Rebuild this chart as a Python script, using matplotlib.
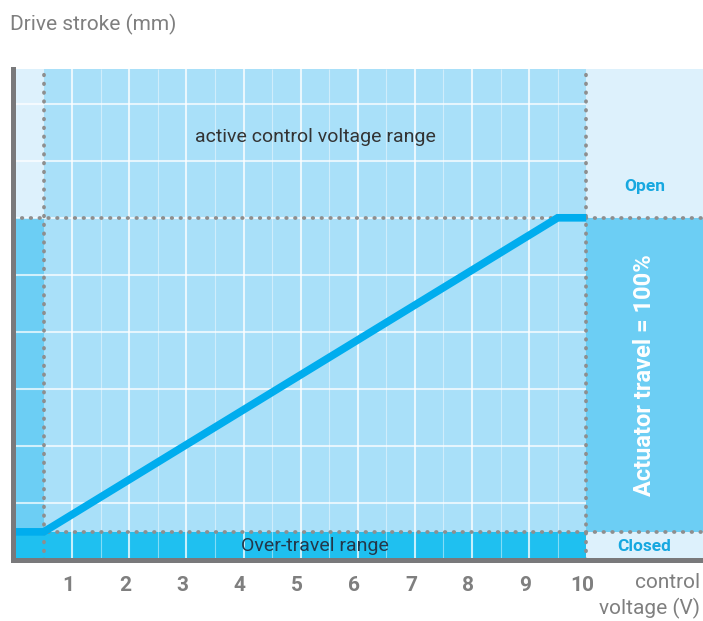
import matplotlib
matplotlib.use("Agg")
import matplotlib.pyplot as plt
import numpy as np
from matplotlib import font_manager
from matplotlib.patches import Rectangle
from matplotlib.transforms import ScaledTranslation

# ---------------- data ----------------
voltage = [0.0, 0.5, 9.5, 10.0]          # control voltage (V)
stroke = [0.0, 0.0, 100.0, 100.0]        # drive stroke (% of actuator travel)
tick_values = [1, 2, 3, 4, 5, 6, 7, 8, 9, 10]
tick_labels = ["1", "2", "3", "4", "5", "6", "7", "8", "9", "10"]
active_range = (0.5, 10.0)               # active control voltage range (V)
closed_pos, open_pos = 0.0, 100.0        # stroke at closed / open

# ---------------- fonts ----------------
names = {f.name for f in font_manager.fontManager.ttflist}
FONT = "Liberation Sans Narrow" if "Liberation Sans Narrow" in names else "Roboto"
plt.rcParams["font.family"] = [FONT, "DejaVu Sans"]

# ---------------- colours ----------------
C_LIGHT = "#ddf1fc"
C_ACTIVE = "#a9e0f9"
C_MED = "#6ccef4"
C_OVER = "#1fc0f0"
C_LINE = "#00adee"
C_DOT = "#8e8e8e"
C_SPINE = "#79797b"
C_GRAY = "#7f7f7f"
C_BLUE_TXT = "#17a8e0"

W, H = 703, 621
fig = plt.figure(figsize=(W / 100, H / 100), dpi=100)
ax = fig.add_axes([12.5 / W, (H - 560.4) / H, 690.5 / W, (560.4 - 69) / H])

step = (open_pos - closed_pos) / 5.5     # one grid cell in stroke units
x0, x1 = -0.047, 12.045
y0, y1 = closed_pos - 0.5 * step, closed_pos + 8.106 * step
ax.set_xlim(x0, x1)
ax.set_ylim(y0, y1)

a0, a1 = active_range

def rect(xa, xb, ya, yb, c):
    ax.add_patch(Rectangle((xa, ya), xb - xa, yb - ya, facecolor=c,
                           edgecolor="none", zorder=0))

# left column
rect(x0, a0, y0, closed_pos, C_OVER)
rect(x0, a0, closed_pos, open_pos, C_MED)
rect(x0, a0, open_pos, y1, C_LIGHT)
# active column
rect(a0, a1, y0, closed_pos, C_OVER)
rect(a0, a1, closed_pos, y1, C_ACTIVE)
# right column
rect(a1, x1, y0, closed_pos, C_LIGHT)
rect(a1, x1, closed_pos, open_pos, C_MED)
rect(a1, x1, open_pos, y1, C_LIGHT)

# grid
major_v = [v for v in tick_values if v < a1]
minor_v = [v + 0.5 for v in tick_values if v + 0.5 < a1]
ax.vlines(major_v, y0, y1, color="white", alpha=0.75, lw=1.5, zorder=1)
ax.vlines(minor_v, y0, y1, color="white", alpha=0.45, lw=0.8, zorder=1)
grid_y = closed_pos + (np.arange(1, 9) - 0.5) * step
ax.hlines(grid_y, x0, a1, color="white", alpha=0.7, lw=1.5, zorder=1)

# dotted guide lines
dot = dict(color=C_DOT, lw=2.7, linestyle=(0, (0.15, 2.2)),
           dash_capstyle="round", zorder=2)
ax.axvline(a0, **dot)
ax.axvline(a1, **dot)
ax.axhline(closed_pos, **dot)
ax.axhline(open_pos, **dot)

# characteristic line
ax.plot(voltage, stroke, color=C_LINE, lw=5.5, solid_capstyle="butt",
        solid_joinstyle="miter", zorder=3)

# spines
for s in ("top", "right"):
    ax.spines[s].set_visible(False)
for s in ("left", "bottom"):
    ax.spines[s].set_color(C_SPINE)
    ax.spines[s].set_linewidth(3.6)
    ax.spines[s].set_zorder(5)

ax.set_yticks([])
ax.set_xticks(tick_values)
ax.set_xticklabels(tick_labels, fontsize=15, fontweight="bold", color=C_GRAY)
ax.tick_params(axis="x", length=0, pad=11)
off = ScaledTranslation(-4 / 100, 0, fig.dpi_scale_trans)
for lab in ax.get_xticklabels():
    lab.set_transform(lab.get_transform() + off)

# texts inside
mid_x = (a0 + a1) / 2
ax.text(mid_x, closed_pos + 6.92 * step, "active control voltage range",
        ha="center", va="center", fontsize=14, color="#333333", zorder=4)
ax.text(mid_x, closed_pos - 0.25 * step, "Over-travel range",
        ha="center", va="center", fontsize=14, color="#24384a", zorder=4)
rx = (a1 + x1) / 2
ax.text(rx, open_pos + 0.55 * step, "Open", ha="center", va="center",
        fontsize=12.5, fontweight="bold", color=C_BLUE_TXT, zorder=4)
ax.text(rx, closed_pos - 0.25 * step, "Closed", ha="center", va="center",
        fontsize=12.5, fontweight="bold", color=C_BLUE_TXT, zorder=4)
ax.text(rx, (closed_pos + open_pos) / 2, "Actuator travel = 100%",
        ha="center", va="center", rotation=90, fontsize=17, fontweight="bold",
        color="white", zorder=4)

# texts outside
fig.text(10 / W, 1 - 24 / H, "Drive stroke (mm)", ha="left", va="center",
         fontsize=15, color=C_GRAY)
fig.text(700 / W, 1 - 583 / H, "control", ha="right", va="center",
         fontsize=15, color=C_GRAY)
fig.text(700 / W, 1 - 608 / H, "voltage (V)", ha="right", va="center",
         fontsize=15, color=C_GRAY)

fig.savefig("out.png", dpi=100)
